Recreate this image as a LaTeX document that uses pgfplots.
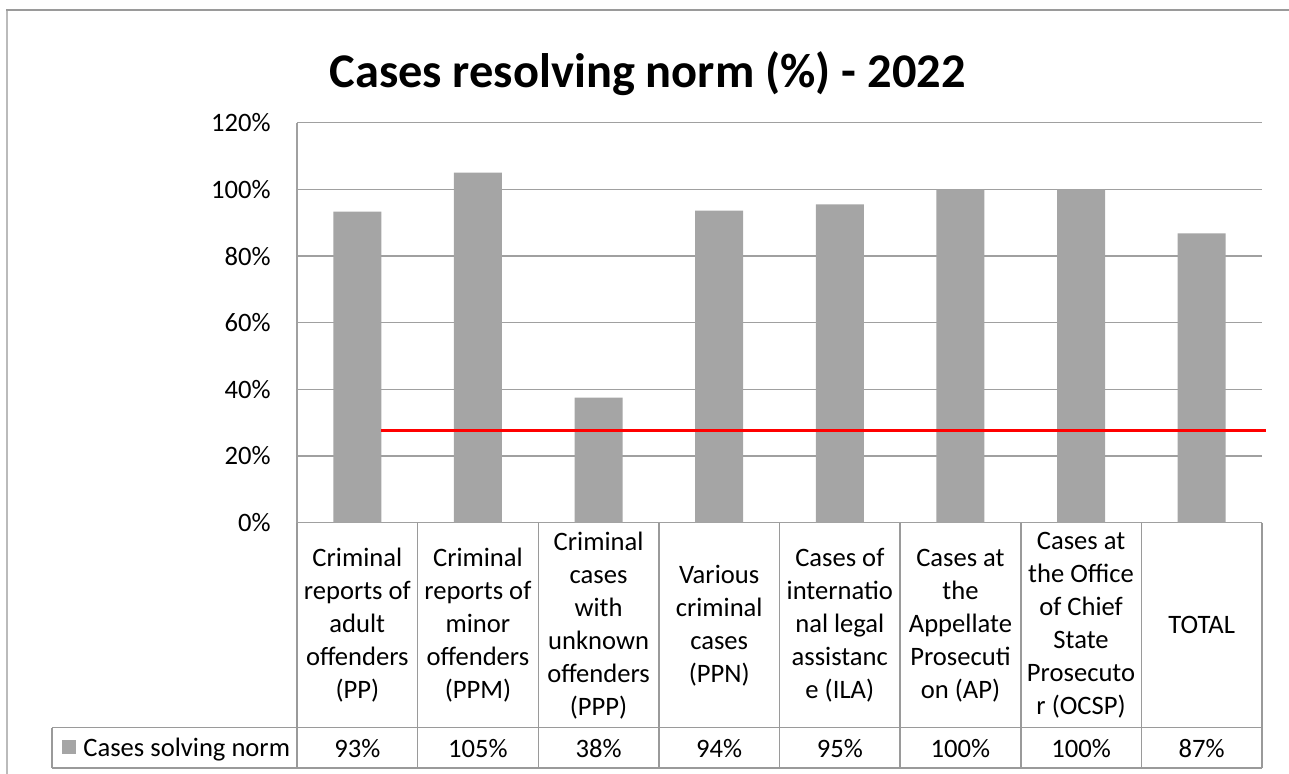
\documentclass[border=0pt]{standalone}
\usepackage{fontspec}
\setmainfont{Carlito}
\usepackage{pgfplots}
\pgfplotsset{compat=1.18}
\definecolor{bargray}{HTML}{A5A5A5}
\definecolor{gridgray}{HTML}{A0A0A0}
\definecolor{linegray}{HTML}{9A9A9A}
\definecolor{framegray}{HTML}{BBBBBB}
\newcommand{\tf}{\fontsize{13.3}{16.5}\selectfont}
\tikzset{val/.style={font=\tf, anchor=base, inner sep=0pt}}
\begin{document}
\begin{tikzpicture}
\useasboundingbox (0,0) rectangle (644.5pt,387pt);
% chart frame
\draw[framegray, line width=1pt] (3.5pt,0pt) -- (3.5pt,382pt);
\draw[linegray, line width=0.75pt] (3pt,382pt) -- (644.5pt,382pt);
% title
\node[anchor=base, inner sep=0pt, font=\fontsize{24.2}{29}\selectfont\bfseries] at (323.8pt,343pt) {Cases resolving norm (\%) - 2022};
\begin{axis}[
  at={(148.5pt,125.65pt)}, anchor=south west,
  scale only axis, width=482.5pt, height=200pt,
  xmin=-0.5, xmax=7.5, ymin=0, ymax=120,
  axis lines*=left,
  axis line style={draw=gridgray, line width=0.75pt},
  ytick={0,20,...,120},
  yticklabel={\pgfmathprintnumber{\tick}\%},
  /pgf/number format/assume math mode=true,
  yticklabel style={font=\tf, anchor=east, inner sep=0pt, xshift=-13pt},
  ymajorgrids,
  grid style={draw=gridgray, line width=0.75pt},
  major tick length=0pt,
  xtick={0,...,7},
  xticklabels={
    {Criminal\\reports of\\adult\\offenders\\(PP)},
    {Criminal\\reports of\\minor\\offenders\\(PPM)},
    {Criminal\\cases\\with\\unknown\\offenders\\(PPP)},
    {Various\\criminal\\cases\\(PPN)},
    {Cases of\\internatio\\nal legal\\assistanc\\e (ILA)},
    {Cases at\\the\\Appellate\\Prosecuti\\on (AP)},
    {Cases at\\the Office\\of Chief\\State\\Prosecuto\\r (OCSP)},
    {TOTAL}},
  xticklabel style={font=\tf, align=center, anchor=center, inner sep=0pt, yshift=-51.3pt},
  clip=false,
]
\addplot[ybar, bar width=24pt, fill=bargray, draw=none] coordinates {
  (0,93.3) (1,105.0) (2,37.5) (3,93.6) (4,95.5) (5,100.0) (6,100.0) (7,86.8)};
\addplot[red, line width=1.5pt] coordinates {(0.2,27.6) (7.535,27.6)};
\node[val] at (axis cs:0,-70.4) {93\%};
\node[val] at (axis cs:1,-70.4) {105\%};
\node[val] at (axis cs:2,-70.4) {38\%};
\node[val] at (axis cs:3,-70.4) {94\%};
\node[val] at (axis cs:4,-70.4) {95\%};
\node[val] at (axis cs:5,-70.4) {100\%};
\node[val] at (axis cs:6,-70.4) {100\%};
\node[val] at (axis cs:7,-70.4) {87\%};
\end{axis}
% data table lines
\foreach \k in {0,...,8} {
  \draw[linegray, line width=0.75pt] ({148.5pt+\k*60.3125pt},125.65pt) -- ({148.5pt+\k*60.3125pt},3pt);
}
\draw[linegray, line width=0.75pt] (26pt,23.15pt) -- (631pt,23.15pt);
\draw[linegray, line width=0.75pt] (26pt,3pt) -- (631pt,3pt);
\draw[linegray, line width=0.75pt] (26pt,23.15pt) -- (26pt,3pt);
% legend key
\fill[bargray] (31pt,10.2pt) rectangle (38pt,17.2pt);
\node[anchor=base west, inner sep=0pt, font=\tf] at (41.5pt,8.6pt) {Cases solving norm};
\end{tikzpicture}
\end{document}
